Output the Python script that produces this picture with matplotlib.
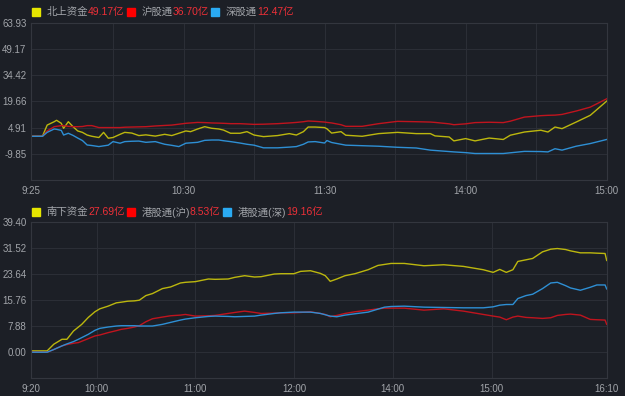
import matplotlib
matplotlib.use("Agg")
import matplotlib.pyplot as plt
from matplotlib.patches import Rectangle

plt.rcParams['font.family'] = ['Liberation Sans', 'Noto Sans CJK SC', 'DejaVu Sans']
plt.rcParams['font.size'] = 7

# ---- top panel: northbound flows (A-share session) ----
north_times = ["09:25", "09:30", "09:32", "09:35", "09:36", "09:38", "09:39", "09:41", "09:43",
               "09:45", "09:47", "09:49", "09:51", "09:54", "09:56", "09:58", "10:00", "10:03",
               "10:05", "10:08", "10:11", "10:14", "10:18", "10:22", "10:25", "10:28", "10:31",
               "10:33", "10:36", "10:39", "10:42", "10:45", "10:47", "10:50", "10:54", "10:57",
               "11:00", "11:04", "11:10", "11:15", "11:18", "11:21", "11:23", "11:26", "11:30",
               "13:01", "13:03", "13:07", "13:09", "13:16", "13:23", "13:31", "13:39", "13:45",
               "13:47", "13:53", "13:55", "14:00", "14:04", "14:10", "14:16", "14:19", "14:25",
               "14:32", "14:35", "14:38", "14:41", "14:47", "14:53", "15:00"]
north_total = [0, 0, 6.3, 8.2, 9.0, 7.3, 4.5, 8.2, 5.4,
               3.0, 2.2, 0.7, 0.0, -0.7, 2.2, -1.1, -0.7, 1.1,
               2.2, 1.8, 0.4, 0.8, 0.1, 1.1, 0.4, 1.7, 3.0,
               2.6, 4.1, 5.4, 4.5, 4.1, 3.5, 1.7, 1.7, 2.6,
               0.7, -0.2, 0.4, 1.5, 0.7, 2.6, 5.2, 5.2, 4.9,
               4.2, 1.8, 2.6, 0.6, 0.0, 1.5, 2.2, 1.5, 1.5,
               0.2, -0.4, -2.6, -1.3, -2.6, -1.0, -1.8, 0.6, 2.4,
               3.4, 2.4, 5.2, 4.3, 8.0, 11.8, 19.8]
north_sh = [0, 0, 3.0, 5.4, 5.6, 6.0, 6.0, 5.6, 5.4,
            5.4, 5.5, 6.0, 6.0, 4.9, 4.9, 4.9, 4.9, 4.9,
            5.1, 5.2, 5.3, 5.4, 5.8, 6.1, 6.3, 6.8, 7.3,
            7.5, 7.8, 7.7, 7.5, 7.4, 7.3, 7.1, 7.1, 6.9,
            6.7, 6.8, 7.1, 7.5, 7.8, 8.2, 8.6, 8.4, 8.0,
            7.8, 7.5, 6.5, 5.6, 5.6, 7.1, 8.4, 8.2, 8.0,
            7.8, 7.0, 6.5, 7.0, 7.7, 7.9, 7.7, 8.5, 10.8,
            11.6, 11.8, 11.9, 12.3, 14.2, 16.4, 21.1]
north_sz = [0, 0, 2.2, 4.1, 3.9, 3.3, 0.7, 1.7, 0.5,
            -1.0, -2.4, -4.9, -5.2, -5.8, -5.4, -5.0, -3.0, -3.9,
            -3.0, -2.8, -2.7, -3.4, -3.0, -4.5, -5.1, -5.8, -3.9,
            -3.7, -3.4, -2.3, -2.1, -2.1, -2.5, -3.0, -3.8, -4.5,
            -5.0, -6.5, -6.5, -6.1, -5.8, -4.5, -3.2, -3.0, -3.8,
            -2.4, -3.5, -4.5, -5.0, -5.3, -5.6, -6.2, -6.6, -7.8,
            -8.0, -8.6, -8.8, -9.2, -9.7, -9.7, -9.7, -9.3, -8.5,
            -8.6, -8.8, -7.0, -7.8, -5.6, -4.1, -1.8]
north_yticks = [-9.85, 4.91, 19.66, 34.42, 49.17, 63.93]
north_ylim = (-24.61, 63.93)
north_grid_times = ["09:25", "10:00", "10:30", "11:00", "11:30", "13:30", "14:00", "14:30", "15:00"]
north_label_times = ["09:25", "10:30", "11:30", "14:00", "15:00"]
north_legend = [("北上资金", "49.17亿"), ("沪股通", "36.70亿"), ("深股通", "12.47亿")]

# ---- bottom panel: southbound flows (HK session) ----
south_times = ["09:20", "09:30", "09:34", "09:39", "09:42", "09:46", "09:49", "09:51", "09:55",
               "09:59", "10:02", "10:07", "10:12", "10:15", "10:19", "10:23", "10:26", "10:30",
               "10:34", "10:40", "10:45", "10:51", "10:54", "11:00", "11:08", "11:12", "11:20",
               "11:24", "11:30", "11:36", "11:40", "11:48", "11:52", "12:00", "13:04", "13:10",
               "13:16", "13:19", "13:22", "13:26", "13:31", "13:37", "13:45", "13:51", "13:55",
               "13:59", "14:07", "14:19", "14:31", "14:43", "14:55", "15:01", "15:05", "15:09",
               "15:13", "15:16", "15:21", "15:25", "15:31", "15:36", "15:40", "15:45", "15:48",
               "15:54", "16:00", "16:04", "16:09", "16:10"]
south_total = [0.4, 0.4, 2.4, 3.9, 3.9, 6.4, 7.6, 8.4, 10.5,
               12.2, 13.1, 13.9, 14.9, 15.1, 15.4, 15.5, 15.7, 17.1,
               17.7, 19.2, 19.7, 20.9, 21.1, 21.3, 22.1, 22.0, 22.1,
               22.6, 23.1, 22.7, 22.8, 23.6, 23.7, 23.7, 24.4, 24.6,
               23.8, 23.1, 21.4, 22.1, 23.1, 23.7, 24.9, 26.2, 26.5,
               26.8, 26.8, 26.1, 26.4, 25.9, 24.9, 24.1, 25.0, 24.1,
               24.9, 27.4, 27.9, 28.3, 30.3, 31.1, 31.3, 31.0, 30.6,
               30.0, 30.0, 29.9, 29.8, 27.7]
south_sh = [0.0, 0.0, 0.8, 1.9, 2.3, 2.7, 2.9, 3.3, 4.1,
            4.9, 5.2, 5.9, 6.5, 6.9, 7.2, 7.6, 8.0, 9.2,
            10.1, 10.6, 11.0, 11.2, 11.4, 10.9, 11.0, 11.1, 11.7,
            12.0, 12.4, 12.0, 11.7, 11.8, 11.9, 11.9, 12.0, 12.2,
            11.7, 11.4, 10.7, 11.1, 11.7, 12.2, 12.7, 13.1, 13.3,
            13.3, 13.3, 12.7, 13.1, 12.4, 11.4, 10.9, 10.6, 9.8,
            10.6, 10.9, 10.5, 10.4, 10.2, 10.4, 11.1, 11.4, 11.5,
            11.2, 9.9, 9.8, 9.7, 8.4]
south_sz = [0.0, 0.0, 0.8, 1.9, 2.5, 3.2, 3.9, 4.4, 5.4,
            6.6, 7.2, 7.6, 7.9, 8.0, 8.0, 8.0, 7.9, 7.9,
            7.9, 8.4, 9.0, 9.7, 10.0, 10.4, 10.8, 10.9, 10.8,
            10.7, 10.8, 10.9, 11.2, 11.7, 11.9, 12.1, 12.1, 12.1,
            11.7, 11.3, 10.9, 10.7, 11.2, 11.6, 12.1, 13.0, 13.6,
            13.8, 13.9, 13.6, 13.5, 13.4, 13.4, 13.7, 14.2, 14.4,
            14.4, 16.2, 17.1, 17.5, 19.2, 20.9, 21.1, 20.1, 19.4,
            18.7, 19.6, 20.3, 20.3, 19.1]
south_yticks = [0.00, 7.88, 15.76, 23.64, 31.52, 39.40]
south_ylim = (-7.88, 39.40)
south_grid_times = ["09:20", "10:00", "11:00", "12:00", "14:00", "15:00", "16:10"]
south_label_times = south_grid_times
south_legend = [("南下资金", "27.69亿"), ("港股通(沪)", "8.53亿"), ("港股通(深)", "19.16亿")]

BG = "#1c1f26"
GRID = "#2b2e36"
TEXT = "#a2a5aa"
VALUE_RED = "#ee3038"
LINE_COLORS = ["#bcb70e", "#c0141e", "#2e8fd4"]
SQUARE_COLORS = ["#e6e600", "#ff0000", "#2aaaf2"]
W, H = 625, 396


# trading minutes since open, lunch break collapsed
def a_share_minute(t):
    h, m = map(int, t.split(":"))
    mins = h * 60 + m
    if mins <= 11 * 60 + 30:
        return mins - (9 * 60 + 25)
    return mins - 13 * 60 + 125


def hk_minute(t):
    h, m = map(int, t.split(":"))
    mins = h * 60 + m
    if mins <= 12 * 60:
        return mins - (9 * 60 + 20)
    return mins - 13 * 60 + 160


def style_axes(ax, ylim, yticks, to_x, times, grid_times, label_times):
    ax.set_facecolor(BG)
    ax.set_ylim(*ylim)
    ax.set_yticks([ylim[0]] + yticks, labels=[""] + ["%.2f" % v for v in yticks])
    ax.set_xlim(to_x(times[0]), to_x(times[-1]))
    ax.set_xticks([to_x(t) for t in grid_times],
                  labels=[t.lstrip("0") if t in label_times else "" for t in grid_times])
    ax.grid(True, color=GRID, linewidth=0.8)
    ax.tick_params(length=0, colors=TEXT, labelsize=7)
    ax.tick_params(axis="y", pad=3)
    ax.tick_params(axis="x", pad=4)
    for s in ax.spines.values():
        s.set_color("#33363e")
        s.set_linewidth(0.8)


def draw_lines(ax, to_x, times, series):
    xs = [to_x(t) for t in times]
    for vals, c in zip(series, LINE_COLORS):
        ax.plot(xs, vals, color=c, linewidth=1.0)


# legend: coloured square, grey name, red value, laid out left to right
def draw_legend(fig, renderer, y_px, items):
    x = 32.0
    for (name, value), sq in zip(items, SQUARE_COLORS):
        fig.patches.append(Rectangle((x / W, 1 - (y_px + 4) / H), 8 / W, 8 / H,
                                     transform=fig.transFigure, color=sq))
        x += 14.5
        for txt, col in ((name, TEXT), (value, VALUE_RED)):
            t = fig.text(x / W, 1 - y_px / H, txt, color=col, fontsize=7.5, va="center")
            x += t.get_window_extent(renderer).width
        x += 2.5


fig = plt.figure(figsize=(6.25, 3.96), dpi=100, facecolor=BG)
ax1 = fig.add_axes([30.7 / W, 1 - 180 / H, 576 / W, 157.3 / H])
ax2 = fig.add_axes([30.7 / W, 1 - 378.3 / H, 576 / W, 156.6 / H])

style_axes(ax1, north_ylim, north_yticks, a_share_minute, north_times, north_grid_times, north_label_times)
draw_lines(ax1, a_share_minute, north_times, [north_total, north_sh, north_sz])

style_axes(ax2, south_ylim, south_yticks, hk_minute, south_times, south_grid_times, south_label_times)
draw_lines(ax2, hk_minute, south_times, [south_total, south_sh, south_sz])

renderer = fig.canvas.get_renderer()
draw_legend(fig, renderer, 12.2, north_legend)
draw_legend(fig, renderer, 212, south_legend)

fig.savefig("out.png", dpi=100, facecolor=BG)
